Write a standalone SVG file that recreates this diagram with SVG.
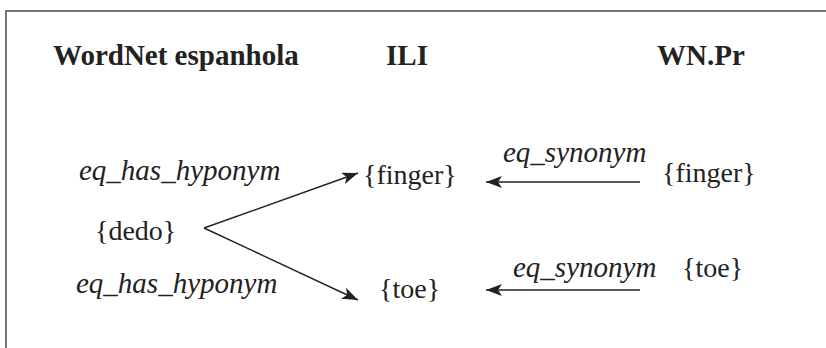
<svg xmlns="http://www.w3.org/2000/svg" width="826" height="348" viewBox="0 0 826 348">
<style>
.frame{fill:none;stroke:#555;stroke-width:1.6}
.hd{font-family:'Liberation Serif','DejaVu Serif',serif;font-weight:bold;font-size:29px;fill:#222}
.nd{font-family:'Liberation Serif','DejaVu Serif',serif;font-size:28px;fill:#222}
.lb{font-family:'Liberation Serif','DejaVu Serif',serif;font-style:italic;font-size:29px;fill:#222}
.edge{fill:none;stroke:#222;stroke-width:1.4;marker-end:url(#ah)}
</style>
<defs>
<marker id="ah" markerUnits="userSpaceOnUse" viewBox="0 0 16 12" refX="16" refY="6" markerWidth="16" markerHeight="12" orient="auto">
<path d="M0,0 L16,6 L0,12 L4,6 Z" fill="#222"/>
</marker>
</defs>
<rect class="frame" x="6" y="11" width="900" height="400"/>
<g id="headings">
<text class="hd" x="53" y="65">WordNet espanhola</text>
<text class="hd" x="386" y="65">ILI</text>
<text class="hd" x="657" y="65">WN.Pr</text>
</g>
<g id="connectors">
<line class="edge" x1="204" y1="228" x2="358" y2="173"/>
<line class="edge" x1="204" y1="228" x2="358" y2="300"/>
<line class="edge" x1="640" y1="182" x2="486" y2="182"/>
<line class="edge" x1="640" y1="290" x2="486" y2="290"/>
<text class="lb" x="79" y="180">eq_has_hyponym</text>
<text class="lb" x="76" y="293">eq_has_hyponym</text>
<text class="lb" x="503" y="162">eq_synonym</text>
<text class="lb" x="513" y="277">eq_synonym</text>
</g>
<g id="node-dedo"><text class="nd" x="95" y="240">{dedo}</text></g>
<g id="node-ili-finger"><text class="nd" x="363" y="184">{finger}</text></g>
<g id="node-ili-toe"><text class="nd" x="379" y="298">{toe}</text></g>
<g id="node-pr-finger"><text class="nd" x="662" y="182">{finger}</text></g>
<g id="node-pr-toe"><text class="nd" x="682" y="277">{toe}</text></g>
</svg>
